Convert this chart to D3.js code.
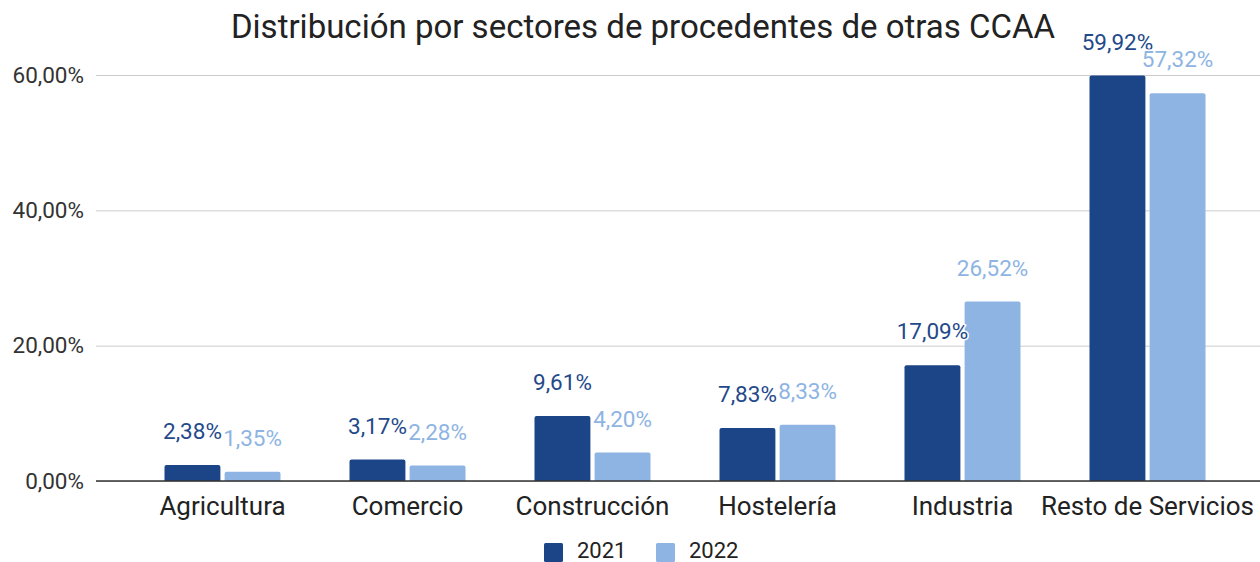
<!DOCTYPE html>
<html>
<head>
<meta charset="utf-8">
<script src="https://cdn.jsdelivr.net/npm/d3@7"></script>
<style>
  body { margin: 0; background: #fff; }
  svg { font-family: Roboto, "Noto Sans", sans-serif; }
</style>
</head>
<body>
<div id="chart"></div>
<script>
const categories = ['Agricultura', 'Comercio', 'Construcción', 'Hostelería', 'Industria', 'Resto de Servicios'];
const seriesNames = ['2021', '2022'];
const values2021 = [2.38, 3.17, 9.61, 7.83, 17.09, 59.92];
const values2022 = [1.35, 2.28, 4.20, 8.33, 26.52, 57.32];
const yTicks = [0, 20, 40, 60];
const colors = ['#1c4587', '#8eb4e3'];
const labelColors = ['#24498a', '#8eb4e3'];

const width = 1260, height = 562;
const plot = { left: 96, right: 1260, top: 75, bottom: 481 };

const fmt = v => v.toFixed(2).replace('.', ',') + '%';

const svg = d3.select('#chart').append('svg')
  .attr('width', width)
  .attr('height', height);

const x = d3.scaleBand()
  .domain(categories)
  .range([130, 1240]);

const xs = d3.scaleBand()
  .domain(seriesNames)
  .range([0, 116])
  .paddingInner(0.07);

const y = d3.scaleLinear()
  .domain([0, 60])
  .range([plot.bottom, plot.top]);

// Title
svg.append('text')
  .attr('x', 643)
  .attr('y', 38)
  .attr('text-anchor', 'middle')
  .attr('font-size', '33px')
  .attr('fill', '#222')
  .text('Distribución por sectores de procedentes de otras CCAA');

// Gridlines + y labels
const yAxis = svg.append('g')
  .attr('transform', `translate(${plot.left},0)`)
  .call(d3.axisLeft(y).tickValues(yTicks).tickSize(-(plot.right - plot.left)).tickPadding(12).tickFormat(fmt));
yAxis.select('.domain').remove();
yAxis.selectAll('.tick line').attr('stroke', '#cccccc');
yAxis.selectAll('.tick text')
  .attr('fill', '#333')
  .attr('font-size', '22.5px')
  .attr('font-family', 'Roboto, sans-serif');

const data = categories.map((c, i) => ({
  cat: c,
  vals: [
    { s: seriesNames[0], v: values2021[i], c: colors[0], lc: labelColors[0] },
    { s: seriesNames[1], v: values2022[i], c: colors[1], lc: labelColors[1] }
  ]
}));

const groups = svg.selectAll('.grp')
  .data(data)
  .enter().append('g')
  .attr('transform', d => `translate(${x(d.cat) + (x.bandwidth() - 116) / 2},0)`);

const r = 2;
groups.selectAll('path')
  .data(d => d.vals)
  .enter().append('path')
  .attr('fill', d => d.c)
  .attr('d', d => {
    const x0 = xs(d.s), w = xs.bandwidth(), yt = y(d.v), yb = y(0);
    return `M${x0},${yb}V${yt + r}Q${x0},${yt} ${x0 + r},${yt}H${x0 + w - r}Q${x0 + w},${yt} ${x0 + w},${yt + r}V${yb}Z`;
  });

// Baseline
svg.append('line')
  .attr('x1', plot.left).attr('x2', plot.right)
  .attr('y1', y(0)).attr('y2', y(0))
  .attr('stroke', '#333').attr('stroke-width', 1.5);

// Value labels
groups.selectAll('text.val')
  .data(d => d.vals)
  .enter().append('text')
  .attr('class', 'val')
  .attr('x', d => xs(d.s) + xs.bandwidth() / 2)
  .attr('y', d => y(d.v) - 26)
  .attr('text-anchor', 'middle')
  .attr('font-size', '22.5px')
  .attr('fill', d => d.lc)
  .attr('stroke', '#fff')
  .attr('stroke-width', 3)
  .attr('paint-order', 'stroke')
  .text(d => fmt(d.v));

// X axis labels
svg.append('g')
  .selectAll('text')
  .data(categories)
  .enter().append('text')
  .attr('x', d => x(d) + x.bandwidth() / 2)
  .attr('y', 515)
  .attr('text-anchor', 'middle')
  .attr('font-size', '26px')
  .attr('fill', '#222')
  .text(d => d);

// Legend
const legend = svg.append('g');
const legX = [544, 656];
seriesNames.forEach((s, i) => {
  legend.append('rect')
    .attr('x', legX[i]).attr('y', 543)
    .attr('width', 19).attr('height', 19)
    .attr('rx', 1.5)
    .attr('fill', colors[i]);
  legend.append('text')
    .attr('x', legX[i] + 33).attr('y', 558)
    .attr('font-size', '22px')
    .attr('fill', '#222')
    .text(s);
});
</script>
</body>
</html>
